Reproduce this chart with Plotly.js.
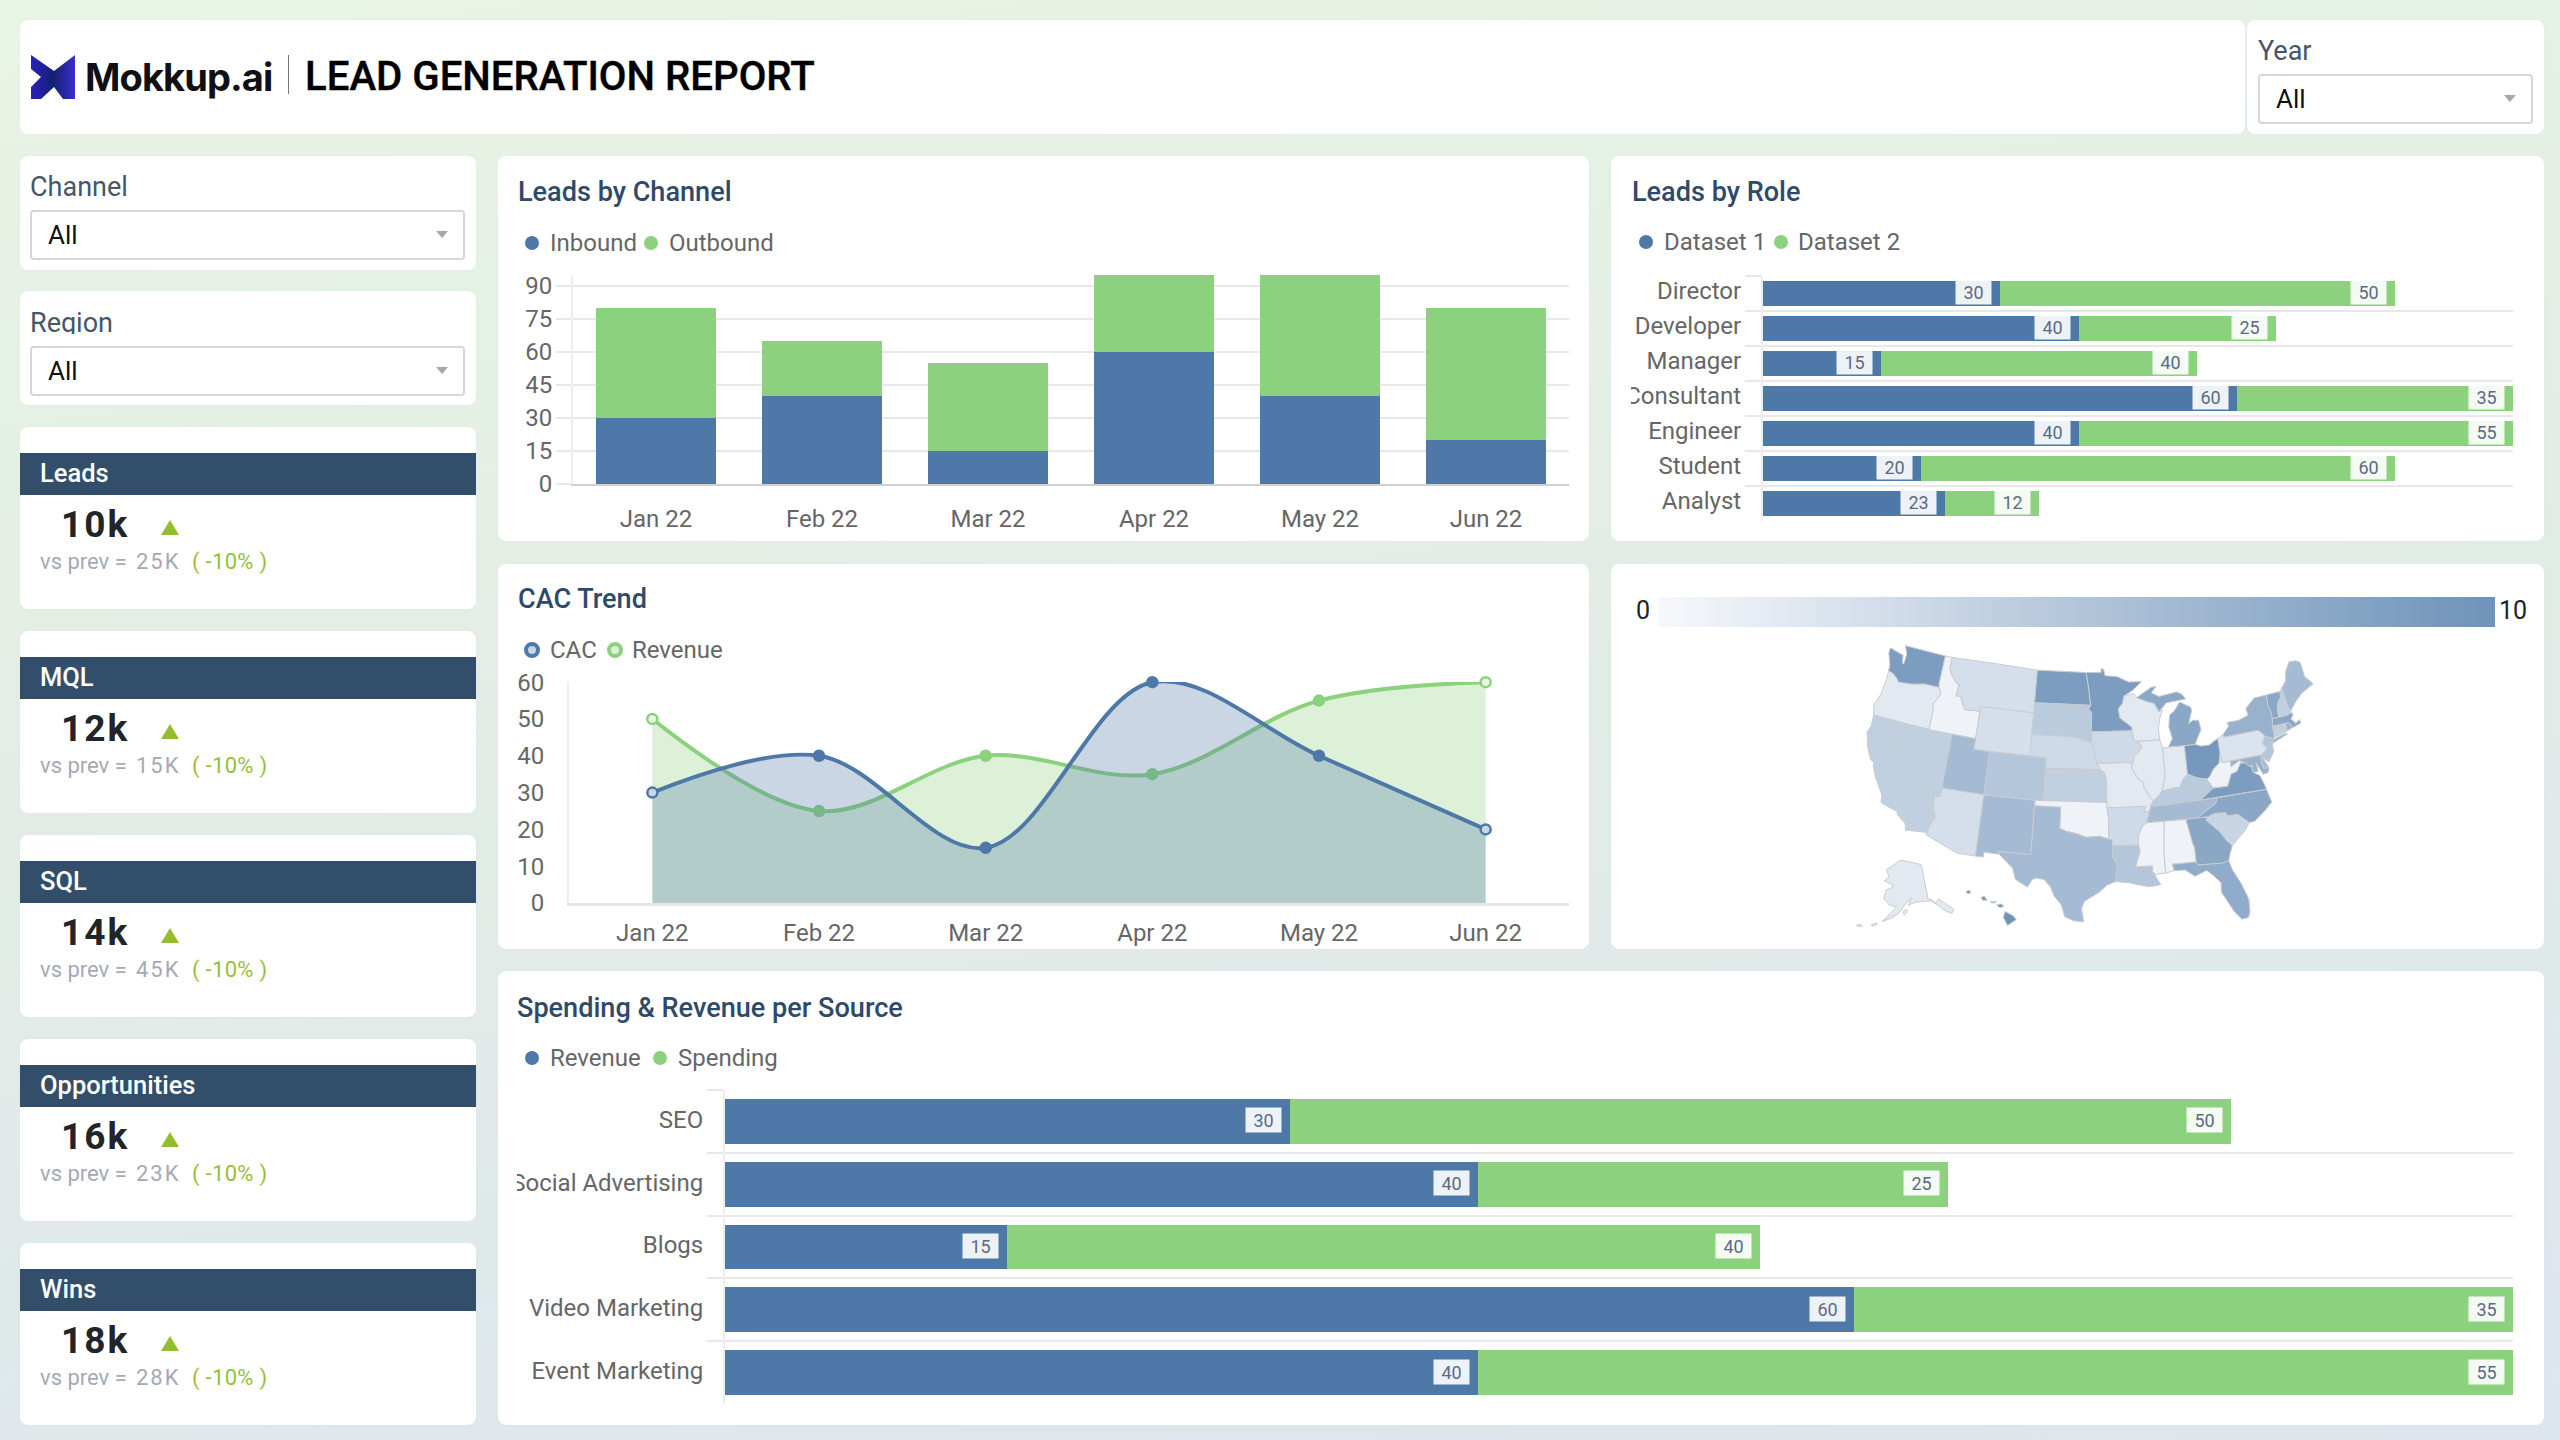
<!DOCTYPE html>
<html><head><meta charset="utf-8">
<script src="https://cdn.plot.ly/plotly-3.0.1.min.js"></script>
<style>
html,body{margin:0;padding:0;width:2560px;height:1440px;overflow:hidden;font-family:Roboto,sans-serif}
#bg{position:absolute;left:0;top:0;width:2560px;height:1440px;background:linear-gradient(172deg,#e8f4e4 0%,#e2ece6 50%,#dde5ee 100%)}
.p{position:absolute;background:#fff;border-radius:8px;box-shadow:0 0 1px rgba(0,0,0,.08)}
.t{position:absolute;white-space:nowrap;line-height:1}
.title{font-size:28.5px;font-weight:500;color:#2f4a68;transform:scaleX(.95);transform-origin:left center}
.lg{font-size:24px;color:#666}
.dot{position:absolute;border-radius:50%;box-sizing:border-box}
.sel{position:absolute;box-sizing:border-box;border:2px solid #d4d6d8;border-radius:4px;background:#fff}
.chart{position:absolute}
.band{position:absolute;left:20px;width:456px;height:42px;background:#334e6b}
</style></head><body>
<div id="bg"></div>
<div id="root"></div>
<div class="chart" id="cChannel" style="left:498px;top:260px;width:1091px;height:280px"></div>
<div class="chart" id="cRole" style="left:1631px;top:266px;width:912px;height:270px"></div>
<div class="chart" id="cTrend" style="left:498px;top:640px;width:1091px;height:309px"></div>
<div class="chart" id="cMap" style="left:1645px;top:624px;width:890px;height:320px"></div>
<div class="chart" id="cSource" style="left:517px;top:1080px;width:2027px;height:340px"></div>
<script>
var months=["Jan 22","Feb 22","Mar 22","Apr 22","May 22","Jun 22"];
var inbound=[30,40,15,60,40,20];
var outbound=[50,25,40,35,55,60];
var roles=["Director","Developer","Manager","Consultant","Engineer","Student","Analyst"];
var dataset1=[30,40,15,60,40,20,23];
var dataset2=[50,25,40,35,55,60,12];
var cac=[30,40,15,60,40,20];
var revenue=[50,25,40,35,55,60];
var sources=["SEO","Social Advertising","Blogs","Video Marketing","Event Marketing"];
var srcRevenue=[30,40,15,60,40];
var srcSpending=[50,25,40,35,55];
var stateCodes=["WA","OR","CA","NV","ID","MT","WY","UT","AZ","CO","NM","ND","SD","NE","KS","OK","TX","MN","IA","MO","AR","LA","WI","IL","MI","IN","OH","KY","TN","MS","AL","GA","FL","SC","NC","VA","WV","PA","NY","VT","NH","ME","MA","CT","RI","NJ","DE","MD","DC","AK","HI"];
var stateValues=[9,1.5,4,4,0.5,2.5,2.5,6,2.5,5,6,9,4.5,3,4,0.5,6,9,3,1.5,3,5,1.5,1.5,8,1.5,9.5,4.5,6,0.5,0.5,8,7.5,3.5,8,9,0.5,2,7,8,4,6,8,4,7,5,6,7,7,1.5,10];
var kpiNames=["Leads","MQL","SQL","Opportunities","Wins"];
var kpiValues=["10k","12k","14k","16k","18k"];
var kpiPrev=["25K","15K","45K","23K","28K"];
var kpiChange="( -10% )";

// Base map: simplified state outlines in longitude/latitude, handed to Plotly's geo layer as its topojson asset
var stateOutlines={
WA:[[[-124.7,48.4],[-123.2,48.15],[-122.75,48.1],[-122.5,47.3],[-122.3,47.4],[-122.3,48.3],[-122.8,49],[-117.03,49],[-117.04,46.4],[-116.92,46],[-118.98,46],[-119.3,45.93],[-120.5,45.7],[-121.2,45.65],[-122.3,45.55],[-122.8,45.9],[-123.4,46.2],[-124,46.27],[-124.1,46.9],[-124.7,47.9]]],
OR:[[[-124,46.27],[-123.4,46.2],[-122.8,45.9],[-122.3,45.55],[-121.2,45.65],[-120.5,45.7],[-119.3,45.93],[-118.98,46],[-116.92,46],[-116.5,45.5],[-116.85,44.9],[-117.2,44.4],[-117.03,43.8],[-117.03,42],[-124.2,42],[-124.55,42.85],[-124.1,44],[-123.95,45.5]]],
ID:[[[-117.03,49],[-116.05,49],[-116.05,48],[-115.7,47.45],[-114.7,46.7],[-114.35,46.65],[-114.5,45.55],[-113.9,45.65],[-113.45,44.95],[-113,44.45],[-111.5,44.55],[-111.05,44.48],[-111.05,42],[-117.03,42],[-117.03,43.8],[-117.2,44.4],[-116.85,44.9],[-116.5,45.5],[-116.92,46],[-117.04,46.4]]],
MT:[[[-116.05,49],[-104.05,49],[-104.05,45],[-111.05,45],[-111.05,44.48],[-111.5,44.55],[-113,44.45],[-113.45,44.95],[-113.9,45.65],[-114.5,45.55],[-114.35,46.65],[-114.7,46.7],[-115.7,47.45],[-116.05,48]]],
WY:[[[-111.05,45],[-104.05,45],[-104.05,41],[-111.05,41]]],
ND:[[[-104.05,49],[-97.23,49],[-96.85,47.5],[-96.56,45.94],[-104.05,45.94]]],
SD:[[[-104.05,45.94],[-96.56,45.94],[-96.85,45.6],[-96.45,45.3],[-96.45,43.5],[-96.45,42.49],[-97.9,42.8],[-98.5,43],[-104.05,43]]],
NE:[[[-104.05,43],[-98.5,43],[-97.9,42.8],[-96.45,42.49],[-96.1,41.7],[-95.85,40.7],[-95.3,40],[-102.05,40],[-102.05,41],[-104.05,41]]],
KS:[[[-102.05,40],[-95.3,40],[-94.9,39.8],[-94.6,39.1],[-94.62,37],[-102.04,37]]],
CO:[[[-109.05,41],[-102.05,41],[-102.05,37],[-109.05,37]]],
UT:[[[-114.05,42],[-111.05,42],[-111.05,41],[-109.05,41],[-109.05,37],[-114.05,37]]],
NV:[[[-120,42],[-114.05,42],[-114.05,36.2],[-114.7,36.1],[-114.6,35],[-120,39]]],
CA:[[[-124.2,42],[-120,42],[-120,39],[-114.6,35],[-114.15,34.3],[-114.5,33.6],[-114.72,32.72],[-117.12,32.53],[-117.3,33.1],[-118.4,33.75],[-118.5,34.03],[-119.2,34.15],[-120.5,34.45],[-120.65,35.15],[-121.9,36.6],[-122.5,37.5],[-122.5,37.8],[-123,38],[-123.75,39],[-124.35,40.3],[-124.1,41]]],
AZ:[[[-114.05,37],[-109.05,37],[-109.05,31.33],[-111.07,31.33],[-114.8,32.5],[-114.72,32.72],[-114.5,33.6],[-114.15,34.3],[-114.6,35],[-114.7,36.1],[-114.05,36.2]]],
NM:[[[-109.05,37],[-103,37],[-103.04,36.5],[-103.05,32],[-106.6,32],[-106.5,31.77],[-108.2,31.78],[-108.2,31.33],[-109.05,31.33]]],
OK:[[[-103,37],[-94.62,37],[-94.43,35.4],[-94.48,33.64],[-95.5,33.9],[-97,33.8],[-98.1,34.13],[-99.2,34.3],[-100,34.56],[-100,36.5],[-103.04,36.5]]],
TX:[[[-106.6,32],[-103.05,32],[-103.04,36.5],[-100,36.5],[-100,34.56],[-99.2,34.3],[-98.1,34.13],[-97,33.8],[-95.5,33.9],[-94.48,33.64],[-94.04,33.55],[-94.04,33],[-94.04,32],[-93.55,31.2],[-93.8,29.7],[-94.7,29.4],[-95.6,28.7],[-97.1,27.9],[-97.4,27.2],[-97.15,25.96],[-98.2,26.06],[-99.1,26.4],[-99.5,27.5],[-100.3,28.3],[-100.7,29.1],[-101.4,29.77],[-102.3,29.88],[-102.7,29.7],[-103.15,28.98],[-104.5,29.6],[-104.9,30.6],[-106.5,31.77]]],
MN:[[[-97.23,49],[-95.15,49],[-95.15,49.38],[-94.8,49.3],[-94.6,48.7],[-93,48.6],[-91.4,48.05],[-89.6,48],[-91,47.2],[-92.1,46.75],[-92.3,46.1],[-92.9,45.6],[-92.75,44.75],[-91.25,43.85],[-91.22,43.5],[-96.45,43.5],[-96.45,45.3],[-96.85,45.6],[-96.56,45.94],[-96.85,47.5]]],
IA:[[[-96.45,43.5],[-91.22,43.5],[-91.1,42.7],[-90.15,42.1],[-90.3,41.7],[-91.1,41.2],[-91.42,40.38],[-91.75,40.6],[-95.77,40.58],[-95.85,40.7],[-96.1,41.7],[-96.45,42.49]]],
MO:[[[-95.77,40.58],[-91.75,40.6],[-91.42,40.38],[-91.5,40],[-90.7,39],[-90.15,38.75],[-90.2,38.3],[-89.5,37.3],[-89.15,37],[-89.5,36.5],[-89.7,36],[-90.37,36],[-90.1,36.5],[-94.62,36.5],[-94.62,37],[-94.6,39.1],[-94.9,39.8],[-95.3,40]]],
AR:[[[-94.62,36.5],[-90.1,36.5],[-90.37,36],[-89.7,36],[-90.1,35],[-90.6,34.7],[-91.1,33.9],[-91.15,33],[-94.04,33],[-94.04,33.55],[-94.48,33.64],[-94.43,35.4]]],
LA:[[[-94.04,33],[-91.15,33],[-91,32.4],[-91.6,31],[-89.73,31],[-89.8,30.5],[-89.55,30.2],[-89.4,29.8],[-89,29.2],[-90.2,29.1],[-91.3,29.3],[-92.3,29.55],[-93.8,29.7],[-93.55,31.2],[-94.04,32]]],
WI:[[[-92.1,46.75],[-90.8,46.95],[-90.4,46.55],[-89.1,46.13],[-88.1,45.9],[-87.6,45.1],[-87.1,45.25],[-87.6,44.4],[-87.85,43.5],[-87.8,42.49],[-90.64,42.5],[-91.1,42.7],[-91.22,43.5],[-91.25,43.85],[-92.75,44.75],[-92.9,45.6],[-92.3,46.1]]],
IL:[[[-90.64,42.5],[-87.8,42.49],[-87.53,41.7],[-87.53,39.35],[-87.6,38.9],[-88.05,37.8],[-88.45,37.4],[-89.15,37],[-89.5,37.3],[-90.2,38.3],[-90.15,38.75],[-90.7,39],[-91.5,40],[-91.42,40.38],[-91.1,41.2],[-90.3,41.7],[-90.15,42.1]]],
IN:[[[-87.53,41.7],[-86.82,41.76],[-84.8,41.72],[-84.82,39.1],[-85.4,38.7],[-85.9,38],[-86.8,37.95],[-88.05,37.8],[-87.6,38.9],[-87.53,39.35]]],
OH:[[[-84.8,41.72],[-83.45,41.73],[-82.7,41.5],[-81.7,41.5],[-80.52,41.98],[-80.52,40.64],[-80.85,39.7],[-81.7,39.2],[-82.2,38.6],[-82.6,38.42],[-83.7,38.65],[-84.82,39.1]]],
KY:[[[-89.5,36.5],[-89.15,37],[-88.45,37.4],[-88.05,37.8],[-86.8,37.95],[-85.9,38],[-85.4,38.7],[-84.82,39.1],[-83.7,38.65],[-82.6,38.42],[-81.97,37.54],[-83.68,36.6],[-88.05,36.5]]],
TN:[[[-89.7,36],[-89.5,36.5],[-88.05,36.5],[-83.68,36.6],[-81.68,36.59],[-82,36.1],[-84.32,35],[-90.1,35]]],
MS:[[[-90.1,35],[-88.2,35],[-88.1,34.9],[-88.4,32.2],[-88.4,30.25],[-89.55,30.2],[-89.8,30.5],[-89.73,31],[-91.6,31],[-91,32.4],[-91.15,33],[-91.1,33.9],[-90.6,34.7]]],
AL:[[[-88.2,35],[-85.6,35],[-85.18,32.87],[-85,32.3],[-85,31],[-87.6,31],[-87.45,30.4],[-88.4,30.25],[-88.4,32.2],[-88.1,34.9]]],
GA:[[[-85.6,35],[-83.1,35],[-83.35,34.7],[-82,33.5],[-81.4,32.6],[-80.85,32.05],[-81.3,31.2],[-81.5,30.72],[-82.2,30.57],[-84.86,30.7],[-85,31],[-85,32.3],[-85.18,32.87]]],
FL:[[[-87.6,31],[-85,31],[-84.86,30.7],[-82.2,30.57],[-81.5,30.72],[-81.25,29.8],[-80.55,28.4],[-80.05,26.9],[-80.15,25.7],[-80.4,25.2],[-81.1,25.15],[-81.75,26],[-82.2,26.9],[-82.75,27.9],[-82.65,28.8],[-83.4,29.6],[-84,30.1],[-85.3,29.7],[-86.3,30.38],[-87.45,30.4]]],
SC:[[[-83.35,34.7],[-83.1,35],[-82.3,35.2],[-81.05,35.15],[-80.8,34.82],[-79.68,34.8],[-78.55,33.86],[-79.2,33.2],[-80.85,32.05],[-81.4,32.6],[-82,33.5]]],
NC:[[[-84.32,35],[-83.1,35],[-82.3,35.2],[-81.05,35.15],[-80.8,34.82],[-79.68,34.8],[-78.55,33.86],[-77.9,33.9],[-76.5,34.7],[-75.6,35.3],[-75.9,36.55],[-81.68,36.59],[-82,36.1]]],
VA:[[[-83.68,36.6],[-75.9,36.55],[-76,37],[-76.3,37.9],[-77,38.3],[-77.05,38.8],[-77.5,39.1],[-77.72,39.32],[-78.3,39.4],[-78.9,38.7],[-79.65,38.55],[-80.3,37.5],[-81.97,37.54]]],
WV:[[[-82.6,38.42],[-82.2,38.6],[-81.7,39.2],[-80.85,39.7],[-80.52,40.64],[-80.52,39.72],[-79.48,39.72],[-79.48,39.2],[-78.4,39.62],[-77.72,39.32],[-78.3,39.4],[-78.9,38.7],[-79.65,38.55],[-80.3,37.5],[-81.97,37.54]]],
MD:[[[-79.48,39.72],[-75.79,39.72],[-75.7,38.46],[-75.05,38.45],[-75.25,38.03],[-75.9,37.95],[-76.2,38.6],[-76.45,39.1],[-76.4,38.3],[-77,38.3],[-77.05,38.8],[-77.5,39.1],[-77.72,39.32],[-78.4,39.62],[-79.48,39.2]]],
DE:[[[-75.79,39.72],[-75.42,39.8],[-75.55,39.45],[-75.05,38.45],[-75.7,38.46]]],
DC:[[[-77.12,38.93],[-77.04,39],[-76.91,38.89],[-77.04,38.79]]],
NJ:[[[-75.55,39.62],[-75.42,39.8],[-74.75,40.2],[-75.2,40.7],[-74.7,41.36],[-73.9,41],[-74,40.5],[-74.1,39.75],[-74.9,38.95],[-75.55,39.45]]],
PA:[[[-80.52,41.98],[-79.76,42.27],[-79.76,42],[-75.35,42],[-75.05,41.75],[-74.7,41.36],[-75.2,40.7],[-74.75,40.2],[-75.42,39.8],[-75.79,39.72],[-80.52,39.72],[-80.52,40.64]]],
NY:[[[-79.76,42.27],[-78.9,42.9],[-79.05,43.27],[-77.5,43.27],[-76.2,43.55],[-76.3,44.2],[-75,44.98],[-73.35,45],[-73.4,44],[-73.25,43.55],[-73.27,42.75],[-73.5,42.05],[-73.5,41.3],[-73.65,41],[-73.75,40.85],[-72.2,41.15],[-71.9,41.05],[-73.9,40.55],[-74,40.5],[-73.9,41],[-74.7,41.36],[-75.05,41.75],[-75.35,42],[-79.76,42]]],
VT:[[[-73.35,45],[-71.5,45.01],[-71.55,44.5],[-72.05,44.1],[-72.35,43.5],[-72.46,42.73],[-73.27,42.75],[-73.25,43.55],[-73.4,44]]],
NH:[[[-71.5,45.01],[-71.08,45.3],[-70.98,43.4],[-70.7,43.07],[-70.82,42.87],[-71.3,42.7],[-72.46,42.73],[-72.35,43.5],[-72.05,44.1],[-71.55,44.5]]],
ME:[[[-71.08,45.3],[-70.4,45.8],[-70,46.7],[-69.2,47.45],[-68.3,47.35],[-67.8,47.07],[-67.8,45.7],[-67,44.85],[-68.8,44.3],[-69.8,43.75],[-70.7,43.07],[-70.98,43.4]]],
MA:[[[-73.5,42.05],[-73.27,42.75],[-72.46,42.73],[-71.3,42.7],[-70.82,42.87],[-70.6,42.65],[-71,42.3],[-70.55,41.8],[-70,42.05],[-69.95,41.7],[-70.65,41.55],[-71.13,41.5],[-71.38,42.02],[-71.8,42.02]]],
RI:[[[-71.8,42.02],[-71.38,42.02],[-71.13,41.5],[-71.85,41.32]]],
CT:[[[-73.5,42.05],[-71.8,42.02],[-71.85,41.32],[-73.65,41],[-73.5,41.3]]],
MI:[[[-86.82,41.76],[-84.8,41.72],[-83.45,41.73],[-83.1,42.2],[-82.45,43],[-82.6,43.9],[-83.4,43.95],[-83.9,43.7],[-83.3,44.9],[-83.4,45.2],[-84.75,45.78],[-85.6,45],[-86.25,44.7],[-86.5,43.6],[-86.2,42.5]],
    [[-90.4,46.55],[-88.4,47.4],[-87.7,47.45],[-88.4,46.9],[-87.4,46.5],[-85,46.75],[-84.35,46.5],[-83.9,46],[-84.75,45.95],[-86.5,45.85],[-87.6,45.1],[-88.1,45.9],[-89.1,46.13]]],
AK:[[[-156.5,71.3],[-141,69.65],[-141,60.3],[-139.5,60],[-137.5,58.9],[-135.5,59.7],[-133.5,58.4],[-130,55.9],[-131.5,55],[-134.5,56.5],[-136.5,58.1],[-140,59.7],[-144,60],[-148,60],[-151.8,59.3],[-150,61.2],[-153.5,59.5],[-156.5,57.2],[-160,55.8],[-164,54.6],[-158,58.7],[-162,59.3],[-165,60.6],[-164.5,63],[-161,63.8],[-161,64.5],[-166.5,65.3],[-164,66.5],[-166.5,68.3],[-163,69.5]],
    [[-154.7,57.5],[-153,58.3],[-152.2,57.6],[-153.8,56.8]],
    [[-168.5,53.2],[-166.5,54],[-166,53.6],[-168,52.9]],
    [[-174.5,52.3],[-172.5,52.5],[-172.5,52.1],[-174.5,51.9]]],
HI:[[[-155.9,20.25],[-155.1,19.85],[-154.8,19.5],[-155.65,18.95],[-156.05,19.7]],
    [[-156.7,20.9],[-156.25,20.95],[-156,20.75],[-156.4,20.6]],
    [[-158.25,21.55],[-157.95,21.7],[-157.65,21.3],[-158.1,21.3]],
    [[-159.75,22.1],[-159.4,22.23],[-159.3,21.95],[-159.6,21.9]],
    [[-157.3,21.17],[-156.75,21.17],[-156.9,21.05],[-157.3,21.08]]]
};
(function registerBaseMap(){
  var arcs=[],geoms=[];
  Object.keys(stateOutlines).forEach(function(id){
    var polys=stateOutlines[id].map(function(ring){
      var r=ring.slice(),area=0;
      for(var i=0;i<r.length;i++){var a=r[i],b=r[(i+1)%r.length];area+=a[0]*b[1]-b[0]*a[1];}
      if(area>0)r.reverse();
      r.push(r[0]);
      arcs.push(r);
      return [[arcs.length-1]];
    });
    geoms.push({type:"MultiPolygon",id:id,arcs:polys,properties:{gu:"USA",ct:[0,0]}});
  });
  window.PlotlyGeoAssets=window.PlotlyGeoAssets||{topojson:{}};
  window.PlotlyGeoAssets.topojson.usa_110m={type:"Topology",arcs:arcs,objects:{subunits:{type:"GeometryCollection",geometries:geoms}}};
})();

var BLUE="#4e78a7",GREEN="#8cd17d",GRID="#e8e8e8",TICK="#666";
var root=document.getElementById("root");
function el(cls,css,txt){var d=document.createElement("div");d.className=cls;d.style.cssText=css;if(txt!==undefined)d.textContent=txt;root.appendChild(d);return d;}
function panel(x,y,x2,y2){el("p","left:"+x+"px;top:"+y+"px;width:"+(x2-x)+"px;height:"+(y2-y)+"px");}
function tx(x,yc,s,css,cls){el("t "+(cls||""),"left:"+x+"px;top:"+(yc-20)+"px;height:40px;line-height:40px;"+(css||""),s);}
panel(20,20,2245,134);panel(2247,20,2544,134);
panel(20,156,476,270);panel(20,291,476,405);
panel(498,156,1589,541);panel(1611,156,2544,541);
panel(498,564,1589,949);panel(1611,564,2544,949);panel(498,971,2544,1425);

var logo=document.createElementNS("http://www.w3.org/2000/svg","svg");
logo.setAttribute("width","50");logo.setAttribute("height","48");logo.style.cssText="position:absolute;left:29px;top:53px";
logo.innerHTML='<defs><linearGradient id="lgo" x1="0" x2="1"><stop offset="0" stop-color="#2b1fc4"/><stop offset=".5" stop-color="#14206e"/><stop offset="1" stop-color="#3a2fd0"/></linearGradient></defs><path fill="url(#lgo)" d="M2 2 L25 18 L46 2 V46 H34 L25 34 L12 46 H2 V34 L12 24 L2 16 Z"/>';
root.appendChild(logo);
tx(85,77,"Mokkup.ai","font-family:Inter,Roboto;font-size:38px;font-weight:700;color:#101014;letter-spacing:-.9px");
el("t","left:288px;top:55px;width:1px;height:39px;background:#777");
tx(305,76,"LEAD GENERATION REPORT","font-size:41px;font-weight:500;color:#000;-webkit-text-stroke:.4px #000;transform:scaleX(.98);transform-origin:left center");

function filter(x,w,labelY,boxY,label,clip){
  el("t","left:"+x+"px;top:"+(labelY-22)+"px;height:"+(clip||44)+"px;line-height:44px;overflow:hidden;font-size:27px;color:#45566a",label);
  el("sel","left:"+x+"px;top:"+boxY+"px;width:"+w+"px;height:50px");
  tx(x+18,boxY+25,"All","font-size:26px;color:#111");
  var a=document.createElementNS("http://www.w3.org/2000/svg","svg");a.setAttribute("width","12");a.setAttribute("height","8");
  a.style.cssText="position:absolute;left:"+(x+w-29)+"px;top:"+(boxY+21)+"px";a.innerHTML='<path d="M0 0H12L6 7Z" fill="#a5a8ad"/>';root.appendChild(a);
}
filter(2258,275,51,74,"Year");
filter(30,435,187,210,"Channel");
filter(30,435,323,346,"Region",33);

kpiNames.forEach(function(n,i){
  var y=427+204*i;
  panel(20,y,476,y+182);
  el("band","top:"+(y+26)+"px");
  tx(40,y+46,n,"font-size:25.5px;font-weight:500;color:#fff");
  tx(61,y+98,kpiValues[i],"font-size:37px;font-weight:700;color:#212529;letter-spacing:2px");
  var a=document.createElementNS("http://www.w3.org/2000/svg","svg");a.setAttribute("width","18");a.setAttribute("height","15");
  a.style.cssText="position:absolute;left:161px;top:"+(y+93)+"px";a.innerHTML='<path d="M9 0L18 15H0Z" fill="#94bd2e"/>';root.appendChild(a);
  tx(40,y+135,"vs prev =","font-size:22px;color:#a5a9b5");
  tx(136,y+135,kpiPrev[i],"font-size:22px;color:#a5a9b5;letter-spacing:2px");
  tx(192,y+135,kpiChange,"font-size:22px;color:#97bf36;letter-spacing:.3px");
});

tx(518,192,"Leads by Channel","",'title');tx(518,599,"CAC Trend","",'title');
tx(1632,192,"Leads by Role","",'title');tx(517,1008,"Spending & Revenue per Source","",'title');
function legend(y,items){items.forEach(function(it){
  var r=it.open?8:7;
  el("dot","left:"+(it.x-r)+"px;top:"+(y-r)+"px;width:"+2*r+"px;height:"+2*r+"px;"+(it.open?"border:4.5px solid "+it.c+";background:"+it.f:"background:"+it.c));
  tx(it.tx,y,it.s,"",'lg');
});}
legend(243,[{x:532,tx:550,c:BLUE,s:"Inbound"},{x:651,tx:669,c:GREEN,s:"Outbound"}]);
legend(242,[{x:1646,tx:1664,c:BLUE,s:"Dataset 1"},{x:1781,tx:1798,c:GREEN,s:"Dataset 2"}]);
legend(650,[{x:532,tx:550,c:BLUE,f:"#c8d6e4",open:1,s:"CAC"},{x:615,tx:632,c:GREEN,f:"#dcf0d5",open:1,s:"Revenue"}]);
legend(1058,[{x:532,tx:550,c:BLUE,s:"Revenue"},{x:660,tx:678,c:GREEN,s:"Spending"}]);

el("t","left:1659px;top:597px;width:836px;height:30px;background:linear-gradient(to right,#f6f8fb,#6f93b9)");
tx(1636,611,"0","font-size:25px;color:#222");tx(2499,611,"10","font-size:25px;color:#222");

var FONT={family:"Roboto, sans-serif",size:24,color:TICK};
var cfg={displayModeBar:false,staticPlot:true};

Plotly.newPlot("cChannel",[
 {type:"bar",name:"Inbound",x:months,y:inbound,marker:{color:BLUE}},
 {type:"bar",name:"Outbound",x:months,y:outbound,marker:{color:GREEN}}
],{barmode:"stack",bargap:0.28,showlegend:false,font:FONT,paper_bgcolor:"rgba(0,0,0,0)",plot_bgcolor:"rgba(0,0,0,0)",
 margin:{l:75,r:20,t:15,b:56},
 xaxis:{type:"category",showgrid:false,ticks:"",showline:true,linecolor:"#d0d0d0",linewidth:2,zeroline:false,ticklabelstandoff:12,tickfont:FONT},
 yaxis:{range:[0,95],tickvals:[0,15,30,45,60,75,90],showgrid:true,gridcolor:GRID,gridwidth:2,ticks:"outside",ticklen:15,tickcolor:GRID,tickwidth:2,showline:true,linecolor:"#eeeeee",linewidth:2,zeroline:false,ticklabelstandoff:-1,tickfont:FONT}
},cfg);

function hStack(div,cats,a,b,names,m,boxH,labelNudge){
 var ann=[];
 cats.forEach(function(c,i){
  [[a[i],a[i]],[a[i]+b[i],b[i]]].forEach(function(p){
   ann.push({x:p[0],y:c,xref:"x",yref:"y",text:String(p[1]),showarrow:false,xanchor:"right",xshift:-8,yshift:1,width:35,height:boxH-2,borderpad:0,
     bgcolor:"rgba(255,255,255,0.9)",font:{family:"Roboto, sans-serif",size:18,color:"#5d6986"},align:"center"});
  });
 });
 Plotly.newPlot(div,[
  {type:"bar",orientation:"h",name:names[0],y:cats,x:a,marker:{color:BLUE}},
  {type:"bar",orientation:"h",name:names[1],y:cats,x:b,marker:{color:GREEN}}
 ],{barmode:"stack",bargap:0.286,showlegend:false,font:FONT,paper_bgcolor:"rgba(0,0,0,0)",plot_bgcolor:"rgba(0,0,0,0)",margin:m,annotations:ann,
  xaxis:{range:[0,95],showgrid:false,showticklabels:false,ticks:"",zeroline:false,showline:false},
  yaxis:{type:"category",categoryorder:"array",categoryarray:cats,range:[cats.length-0.5,-0.5],tickson:"boundaries",ticks:"outside",ticklen:16,tickcolor:GRID,tickwidth:2,showgrid:true,gridcolor:GRID,gridwidth:2,showline:true,linecolor:"#eeeeee",linewidth:2,zeroline:false,ticklabelstandoff:15,tickfont:FONT}
 },cfg).then(function(){
  document.querySelectorAll("#"+div+" .ytick text").forEach(function(t){t.setAttribute("dy",labelNudge);});
 });
}
hStack("cRole",roles,dataset1,dataset2,["Dataset 1","Dataset 2"],{l:132,r:30,t:10,b:15.3},25,-3);
hStack("cSource",sources,srcRevenue,srcSpending,["Revenue","Spending"],{l:208,r:31,t:10,b:16},26,-2);

function trend(name,v,c,fill,hollow){return {type:"scatter",mode:"lines+markers",name:name,x:months,y:v,fill:"tozeroy",fillcolor:fill,cliponaxis:false,
  line:{shape:"spline",smoothing:1,color:c,width:4},marker:{size:10,color:[hollow,c,c,c,c,hollow],line:{color:c,width:2.5}}};}
Plotly.newPlot("cTrend",[
 trend("Revenue",revenue,GREEN,"rgba(140,209,125,0.3)","#e8f6e3"),
 trend("CAC",cac,BLUE,"rgba(78,120,167,0.3)","#c8d6e4")
],{showlegend:false,font:FONT,paper_bgcolor:"rgba(0,0,0,0)",plot_bgcolor:"rgba(0,0,0,0)",margin:{l:71,r:20,t:42,b:46},
 xaxis:{type:"category",range:[-0.5,5.5],showgrid:false,ticks:"",showline:true,linecolor:"#e6e6e6",linewidth:3,zeroline:false,ticklabelstandoff:6,tickfont:FONT},
 yaxis:{range:[0,60.05],tickvals:[0,10,20,30,40,50,60],showgrid:false,ticks:"",showline:true,linecolor:"#eeeeee",linewidth:2,zeroline:false,ticklabelstandoff:18,tickfont:FONT}
},cfg);

Plotly.newPlot("cMap",[{type:"choropleth",locationmode:"USA-states",locations:stateCodes,z:stateValues,zmin:0,zmax:10,
  colorscale:[[0,"#f6f8fb"],[1,"#6f93b9"]],showscale:false,marker:{line:{color:"#c9ccd0",width:1}}}],
 {margin:{l:0,r:0,t:0,b:0},paper_bgcolor:"rgba(0,0,0,0)",
  geo:{scope:"usa",projection:{type:"albers usa",scale:0.92},bgcolor:"rgba(0,0,0,0)",showlakes:false,showland:false,showcoastlines:false,showframe:false,showsubunits:false}},cfg);
</script>
</body></html>
